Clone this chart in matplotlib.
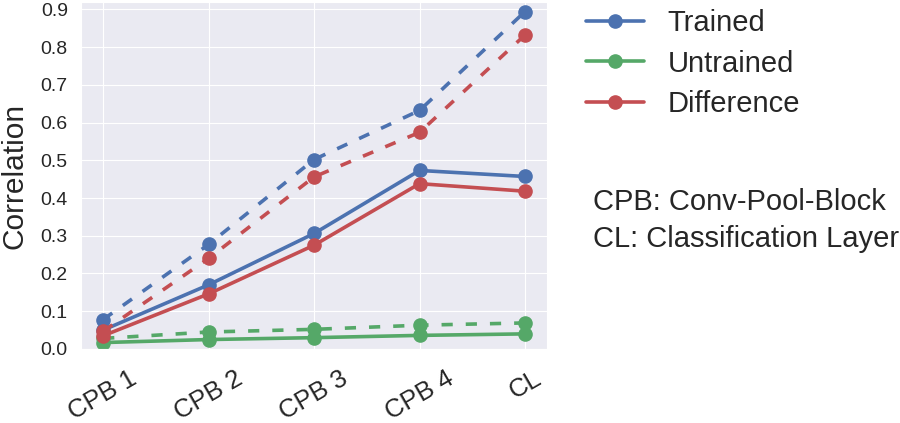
import matplotlib
matplotlib.use("Agg")
import matplotlib.pyplot as plt
import seaborn as sns

sns.set_style("darkgrid")
plt.rcParams['font.family'] = ['Liberation Sans', 'DejaVu Sans']

layers = ["CPB 1", "CPB 2", "CPB 3", "CPB 4", "CL"]

# solid = one measure, dashed = other measure
trained_solid = [0.050, 0.170, 0.306, 0.473, 0.457]
untrained_solid = [0.017, 0.025, 0.030, 0.036, 0.040]
diff_solid = [0.035, 0.146, 0.275, 0.438, 0.418]

trained_dashed = [0.078, 0.277, 0.502, 0.632, 0.894]
untrained_dashed = [0.028, 0.045, 0.052, 0.063, 0.069]
diff_dashed = [0.047, 0.240, 0.456, 0.574, 0.832]

colors = {"Trained": "#4C72B0", "Untrained": "#55A868", "Difference": "#C44E52"}

fig = plt.figure(figsize=(9, 4.23), dpi=100)
ax = fig.add_axes([0.09, 0.175, 0.518, 0.82])

x = list(range(len(layers)))
series = [("Trained", trained_solid, trained_dashed),
          ("Untrained", untrained_solid, untrained_dashed),
          ("Difference", diff_solid, diff_dashed)]

handles = []
for name, solid, dashed in series:
    c = colors[name]
    h, = ax.plot(x, solid, "-o", color=c, lw=2.6, ms=9.5, label=name)
    ax.plot(x, dashed, "--o", color=c, lw=2.6, ms=9.5, dashes=(3.1, 3.6))
    handles.append(h)

ax.set_xlim(-0.21, 4.21)
ax.set_ylim(0.005, 0.919)
ax.set_yticks([0.0, 0.1, 0.2, 0.3, 0.4, 0.5, 0.6, 0.7, 0.8, 0.9])
ax.set_yticklabels(["0.0", "0.1", "0.2", "0.3", "0.4", "0.5", "0.6", "0.7", "0.8", "0.9"])
ax.set_xticks(x)
ax.set_xticklabels(layers, rotation=30, ha="center", fontsize=18.5)
ax.tick_params(axis="y", labelsize=14, pad=6)
ax.tick_params(axis="x", pad=9)
ax.set_ylabel("Correlation", fontsize=21.5, labelpad=9)
for lbl in ax.get_xticklabels() + ax.get_yticklabels():
    lbl.set_color("#262626")

fig.legend(handles=handles, loc="upper left", bbox_to_anchor=(0.622, 1.04),
           fontsize=21, frameon=False, handlelength=2.0, handletextpad=0.8,
           labelspacing=0.42)

fig.text(0.659, 0.416, "CPB: Conv-Pool-Block\nCL: Classification Layer",
         fontsize=21, color="#262626", va="baseline", linespacing=1.4)

fig.savefig("out.png", dpi=100)
